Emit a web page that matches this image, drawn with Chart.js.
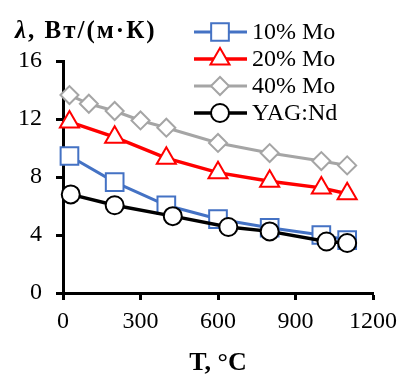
<!DOCTYPE html>
<html>
<head>
<meta charset="utf-8">
<script src="https://cdn.jsdelivr.net/npm/chart.js@4"></script>
<style>
  html, body { margin: 0; padding: 0; background: #fff; }
  #wrap { width: 404px; height: 374px; }
</style>
</head>
<body>
<div id="wrap"><canvas id="grafico"></canvas></div>
<script>
// Данные (T, °C и λ, Вт/(м·К))
const tMo10 = [25, 200, 400, 600, 800, 1000, 1100];
const lambdaMo10 = [9.45, 7.65, 6.05, 5.1, 4.5, 4.0, 3.65];

const tMo20 = [25, 200, 400, 600, 800, 1000, 1100];
const lambdaMo20 = [11.8, 10.75, 9.3, 8.3, 7.7, 7.25, 6.85];

const tMo40 = [25, 100, 200, 300, 400, 600, 800, 1000, 1100];
const lambdaMo40 = [13.65, 13.05, 12.55, 11.9, 11.4, 10.35, 9.65, 9.1, 8.8];

const tYag = [30, 200, 425, 640, 800, 1020, 1100];
const lambdaYag = [6.8, 6.05, 5.3, 4.55, 4.25, 3.55, 3.45];

const xTicks = [0, 300, 600, 900, 1200];
const yTicks = [0, 4, 8, 12, 16];

const serif = "'Liberation Serif', 'Times New Roman', serif";

function pares(xs, ys) {
  return xs.map((x, i) => ({ x: x, y: ys[i] }));
}

// Título do eixo Y (horizontal, em cima à esquerda)
const tituloY = {
  id: "tituloY",
  afterDraw(chart) {
    const ctx = chart.ctx;
    ctx.save();
    ctx.fillStyle = "#000";
    ctx.textBaseline = "alphabetic";
    ctx.textAlign = "left";
    ctx.letterSpacing = "2px";
    ctx.font = "italic bold 25px " + serif;
    ctx.fillText("λ", 15, 38);
    const w = ctx.measureText("λ").width;
    ctx.font = "bold 25px " + serif;
    ctx.fillText(", Вт/(м·К)", 15 + w, 38);
    ctx.restore();
  },
};

// Legenda desenhada à mão (fica sobre a área do gráfico)
const legenda = {
  id: "legenda",
  afterDraw(chart) {
    const ctx = chart.ctx;
    ctx.save();
    chart.data.datasets.forEach((ds, i) => {
      const y = 32 + i * 27;
      ctx.strokeStyle = ds.borderColor;
      ctx.lineWidth = ds.borderWidth;
      ctx.beginPath();
      ctx.moveTo(194, y);
      ctx.lineTo(247, y);
      ctx.stroke();
      ctx.fillStyle = ds.pointBackgroundColor;
      ctx.strokeStyle = ds.pointBorderColor;
      ctx.lineWidth = ds.pointBorderWidth;
      Chart.helpers.drawPoint(ctx, {
        pointStyle: ds.pointStyle,
        radius: ds.pointRadius,
        borderWidth: ds.pointBorderWidth,
        rotation: 0,
      }, 220, y);
      ctx.fillStyle = "#000";
      ctx.font = "24px " + serif;
      ctx.textAlign = "left";
      ctx.textBaseline = "middle";
      ctx.fillText(ds.label, 252, y + 1);
    });
    ctx.restore();
  },
};

const ctx = document.getElementById("grafico");

new Chart(ctx, {
  type: "line",
  data: {
    datasets: [
      {
        label: "10% Mo",
        data: pares(tMo10, lambdaMo10),
        borderColor: "#4472C4",
        borderWidth: 3,
        pointStyle: "rect",
        pointRadius: 12.5,
        pointBorderWidth: 2,
        pointBorderColor: "#4472C4",
        pointBackgroundColor: "#fff",
        order: 3,
      },
      {
        label: "20% Mo",
        data: pares(tMo20, lambdaMo20),
        borderColor: "#FF0000",
        borderWidth: 3.5,
        pointStyle: "triangle",
        pointRadius: 11,
        pointBorderWidth: 2,
        pointBorderColor: "#FF0000",
        pointBackgroundColor: "#fff",
        order: 2,
      },
      {
        label: "40% Mo",
        data: pares(tMo40, lambdaMo40),
        borderColor: "#A5A5A5",
        borderWidth: 3,
        pointStyle: "rectRot",
        pointRadius: 9,
        pointBorderWidth: 2,
        pointBorderColor: "#A5A5A5",
        pointBackgroundColor: "#fff",
        order: 1,
      },
      {
        label: "YAG:Nd",
        data: pares(tYag, lambdaYag),
        borderColor: "#000",
        borderWidth: 3.5,
        pointStyle: "circle",
        pointRadius: 9,
        pointBorderWidth: 2,
        pointBorderColor: "#000",
        pointBackgroundColor: "#fff",
        order: 0,
      },
    ],
  },
  options: {
    responsive: true,
    maintainAspectRatio: false,
    animation: false,
    clip: false,
    layout: { padding: { left: 0, right: 28, top: 61, bottom: 0 } },
    elements: { line: { tension: 0 } },
    plugins: {
      legend: { display: false },
      tooltip: { enabled: false },
    },
    scales: {
      x: {
        type: "linear",
        min: 0,
        max: 1200,
        afterBuildTicks(scale) {
          scale.ticks = xTicks.map((v) => ({ value: v }));
        },
        afterFit(scale) {
          scale.height = 81;
        },
        ticks: {
          color: "#000",
          font: { family: serif, size: 24 },
          padding: 7,
          maxRotation: 0,
          autoSkip: false,
          callback: (v) => String(v),
        },
        grid: {
          drawOnChartArea: false,
          tickLength: 7,
          tickWidth: 3,
          tickColor: "#000",
        },
        border: { color: "#000", width: 3 },
        title: {
          display: true,
          text: "T, °C",
          color: "#000",
          font: { family: serif, size: 26, weight: "bold", lineHeight: 0.85 },
          padding: { top: 0, bottom: 0 },
        },
      },
      y: {
        min: 0,
        max: 16,
        afterBuildTicks(scale) {
          scale.ticks = yTicks.map((v) => ({ value: v }));
        },
        afterFit(scale) {
          scale.width = 63;
        },
        ticks: {
          color: "#000",
          font: { family: serif, size: 24 },
          padding: 14,
        },
        grid: {
          drawOnChartArea: false,
          tickLength: 7,
          tickWidth: 3,
          tickColor: "#000",
        },
        border: { color: "#000", width: 3 },
      },
    },
  },
  plugins: [tituloY, legenda],
});
</script>
</body>
</html>
